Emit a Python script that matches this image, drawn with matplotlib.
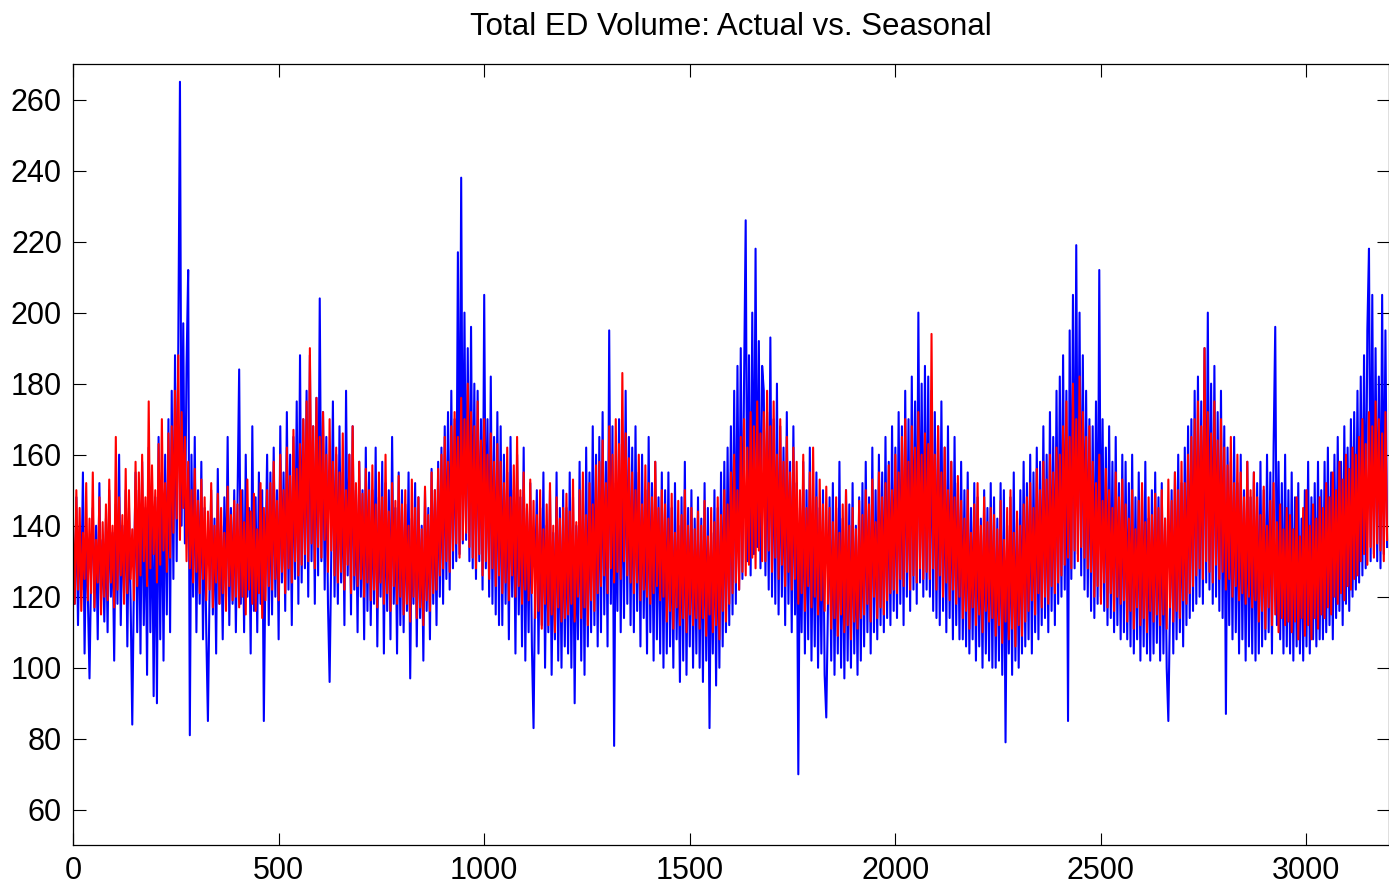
import numpy as np
import matplotlib
matplotlib.use("Agg")
import matplotlib.pyplot as plt

day_step = 4

actual = [
    135, 118, 148, 112, 140, 122, 155, 104, 138, 120, 97, 128, 145, 116, 140, 108, 152, 119, 136, 113,
    142, 110, 150, 120, 138, 102, 146, 118, 160, 112, 140, 121, 150, 106, 145, 119, 84, 124, 155, 110,
    150, 104, 158, 112, 145, 98, 162, 110, 150, 92, 148, 90, 165, 108, 155, 102, 160, 115, 170, 110,
    178, 125, 188, 130, 192, 265, 140, 197, 135, 185, 212, 81, 160, 120, 165, 110, 150, 118, 158, 108,
    145, 110, 85, 122, 150, 115, 142, 104, 156, 118, 140, 108, 148, 120, 165, 112, 145, 118, 150, 110,
    148, 184, 118, 150, 110, 160, 120, 145, 104, 168, 116, 148, 110, 155, 118, 150, 85, 130, 160, 112,
    155, 115, 162, 120, 150, 108, 168, 124, 155, 116, 172, 122, 160, 112, 165, 125, 175, 118, 188, 124,
    170, 128, 178, 120, 188, 130, 168, 118, 176, 126, 204, 130, 172, 122, 165, 118, 96, 132, 175, 120,
    160, 118, 168, 124, 155, 112, 178, 126, 160, 115, 168, 122, 150, 110, 158, 120, 150, 108, 162, 116,
    155, 112, 150, 118, 162, 106, 148, 120, 158, 104, 152, 116, 150, 108, 165, 118, 145, 104, 155, 112,
    150, 110, 146, 116, 155, 97, 142, 118, 152, 106, 148, 114, 140, 102, 150, 116, 145, 108, 156, 118,
    150, 112, 158, 120, 162, 118, 168, 125, 172, 122, 178, 128, 170, 130, 217, 132, 238, 135, 200, 136,
    190, 130, 196, 128, 180, 125, 178, 130, 170, 122, 205, 128, 170, 120, 182, 118, 165, 115, 172, 112,
    168, 112, 160, 118, 155, 108, 165, 120, 150, 104, 160, 115, 148, 106, 162, 102, 145, 110, 152, 106,
    83, 125, 150, 104, 145, 112, 155, 100, 140, 110, 150, 98, 138, 108, 155, 102, 145, 100, 150, 106,
    145, 104, 155, 100, 148, 90, 140, 108, 158, 102, 150, 98, 162, 106, 155, 110, 168, 112, 160, 106,
    165, 110, 172, 115, 158, 106, 195, 118, 168, 78, 152, 116, 170, 110, 162, 114, 178, 118, 165, 112,
    162, 110, 168, 116, 155, 106, 160, 114, 150, 104, 165, 110, 152, 102, 158, 108, 148, 104, 155, 100,
    150, 104, 155, 106, 145, 100, 152, 108, 140, 96, 148, 102, 158, 98, 145, 106, 150, 100, 142, 104,
    148, 100, 142, 96, 152, 102, 145, 83, 138, 104, 150, 95, 145, 100, 155, 106, 158, 110, 162, 112,
    168, 115, 178, 118, 185, 122, 190, 125, 180, 226, 130, 188, 126, 200, 132, 218, 134, 192, 128, 185,
    178, 126, 172, 122, 193, 120, 170, 118, 180, 115, 168, 120, 162, 112, 172, 118, 158, 110, 168, 115,
    152, 70, 145, 110, 158, 104, 150, 108, 162, 102, 148, 106, 155, 100, 145, 104, 150, 98, 86, 118,
    148, 102, 152, 98, 145, 104, 158, 100, 142, 97, 150, 102, 146, 100, 152, 104, 140, 98, 148, 102,
    152, 106, 158, 110, 148, 104, 162, 110, 150, 108, 160, 112, 155, 110, 165, 114, 158, 112, 168, 116,
    162, 114, 172, 118, 168, 112, 178, 120, 170, 116, 182, 122, 175, 118, 200, 124, 180, 120, 185, 122,
    182, 120, 178, 116, 172, 114, 168, 112, 175, 116, 162, 110, 168, 114, 158, 108, 165, 112, 152, 108,
    158, 108, 150, 106, 155, 104, 145, 108, 152, 102, 148, 106, 142, 100, 150, 104, 145, 102, 152, 100,
    148, 100, 142, 102, 152, 98, 150, 79, 140, 104, 148, 98, 155, 102, 142, 100, 150, 104, 158, 106,
    152, 108, 160, 104, 155, 110, 162, 108, 158, 112, 168, 114, 160, 110, 172, 116, 165, 112, 178, 118,
    182, 120, 188, 122, 178, 85, 195, 125, 205, 128, 219, 132, 200, 126, 188, 122, 178, 120, 170, 116,
    168, 114, 175, 118, 212, 120, 170, 116, 162, 112, 168, 114, 158, 110, 165, 112, 152, 108, 160, 110,
    158, 108, 152, 106, 160, 104, 148, 108, 155, 102, 150, 106, 158, 104, 142, 102, 150, 104, 155, 107,
    148, 102, 152, 104, 142, 100, 85, 118, 150, 104, 155, 108, 160, 110, 152, 106, 162, 112, 168, 114,
    170, 116, 178, 118, 182, 120, 175, 118, 190, 124, 200, 122, 180, 118, 185, 120, 172, 116, 178, 114,
    168, 87, 162, 112, 158, 108, 165, 110, 152, 104, 160, 108, 150, 102, 158, 106, 148, 104, 155, 102,
    152, 104, 158, 106, 150, 108, 160, 110, 155, 104, 162, 196, 112, 158, 108, 152, 104, 160, 106, 150,
    104, 155, 102, 148, 106, 152, 104, 142, 102, 150, 106, 158, 104, 148, 108, 152, 106, 158, 108, 150,
    108, 158, 110, 162, 112, 155, 108, 160, 114, 165, 116, 158, 112, 168, 118, 162, 116, 170, 120, 172,
    122, 178, 124, 182, 126, 188, 128, 195, 218, 130, 205, 132, 190, 130, 182, 128, 205, 132, 195, 134,
]

seasonal = [
    140, 118, 150, 122, 145, 116, 138, 125, 152, 119, 142, 121, 155, 117, 136, 124, 148, 115, 141, 120,
    146, 119, 153, 124, 140, 117, 165, 122, 148, 126, 143, 118, 156, 121, 150, 125, 139, 119, 158, 123,
    155, 126, 160, 130, 148, 123, 175, 128, 157, 132, 150, 124, 163, 129, 170, 133, 152, 127, 166, 131,
    168, 138, 178, 142, 188, 136, 172, 145, 165, 130, 158, 128, 150, 124, 156, 127, 147, 121, 153, 125,
    148, 119, 144, 122, 152, 117, 140, 124, 149, 118, 145, 121, 138, 116, 151, 123, 143, 119, 147, 120,
    146, 117, 150, 120, 141, 115, 153, 122, 144, 118, 149, 116, 139, 121, 152, 114, 145, 119, 150, 123,
    152, 122, 158, 125, 147, 119, 160, 127, 150, 121, 162, 128, 154, 124, 167, 130, 156, 126, 163, 129,
    170, 132, 175, 130, 190, 135, 168, 128, 176, 134, 165, 131, 172, 136, 160, 127, 170, 133, 158, 126,
    162, 124, 155, 127, 166, 122, 150, 129, 160, 121, 168, 126, 152, 123, 158, 125, 149, 120, 156, 124,
    150, 119, 157, 122, 146, 117, 155, 124, 148, 118, 160, 121, 144, 116, 152, 123, 147, 118, 154, 120,
    146, 115, 150, 118, 140, 113, 153, 120, 145, 114, 148, 117, 139, 112, 151, 119, 143, 116, 155, 121,
    150, 122, 156, 126, 160, 128, 165, 130, 158, 127, 168, 133, 172, 135, 165, 131, 176, 136, 170, 138,
    180, 134, 172, 131, 168, 128, 175, 132, 164, 126, 170, 130, 160, 125, 166, 128, 158, 123, 163, 126,
    158, 121, 152, 124, 162, 119, 148, 126, 157, 120, 165, 123, 150, 118, 155, 122, 146, 119, 153, 121,
    147, 114, 143, 116, 150, 111, 139, 118, 146, 112, 152, 115, 140, 110, 148, 117, 142, 113, 145, 114,
    149, 115, 144, 118, 153, 113, 141, 120, 150, 114, 155, 117, 143, 112, 152, 119, 146, 116, 157, 121,
    158, 123, 164, 126, 152, 121, 168, 128, 160, 124, 170, 127, 163, 125, 183, 130, 166, 126, 159, 124,
    155, 121, 150, 124, 160, 119, 146, 122, 157, 120, 152, 118, 148, 121, 158, 123, 145, 119, 150, 120,
    146, 113, 142, 116, 149, 111, 138, 117, 147, 112, 143, 114, 150, 110, 140, 115, 145, 112, 139, 114,
    144, 111, 140, 114, 147, 109, 137, 115, 145, 110, 141, 112, 148, 108, 143, 116, 150, 113, 146, 118,
    155, 121, 160, 124, 150, 122, 165, 127, 170, 126, 162, 129, 172, 131, 168, 128, 175, 133, 166, 130,
    172, 130, 178, 133, 168, 127, 175, 131, 160, 125, 170, 129, 158, 123, 165, 127, 155, 122, 162, 125,
    158, 118, 150, 121, 160, 116, 145, 123, 155, 117, 162, 120, 148, 115, 153, 119, 146, 116, 151, 118,
    145, 111, 141, 114, 148, 109, 138, 115, 146, 110, 150, 112, 140, 108, 145, 113, 139, 111, 147, 114,
    143, 115, 150, 118, 146, 113, 153, 120, 141, 114, 155, 117, 148, 115, 152, 119, 157, 121, 150, 122,
    160, 121, 155, 125, 165, 123, 170, 127, 158, 122, 168, 126, 162, 124, 172, 128, 160, 125, 166, 127,
    163, 125, 194, 128, 160, 122, 168, 126, 155, 120, 162, 124, 150, 119, 158, 122, 148, 118, 154, 120,
    147, 114, 142, 116, 150, 111, 138, 117, 146, 112, 152, 115, 140, 110, 148, 116, 141, 113, 145, 114,
    143, 109, 139, 112, 147, 107, 136, 113, 145, 108, 150, 111, 138, 106, 144, 112, 140, 109, 146, 113,
    148, 116, 152, 119, 145, 115, 156, 121, 150, 117, 158, 120, 153, 118, 160, 123, 155, 121, 162, 124,
    160, 126, 168, 129, 175, 131, 165, 128, 180, 133, 170, 130, 182, 134, 172, 131, 165, 128, 168, 127,
    158, 120, 152, 123, 160, 118, 147, 124, 156, 117, 150, 121, 145, 116, 155, 120, 148, 118, 153, 119,
    146, 113, 142, 116, 150, 111, 139, 117, 147, 112, 152, 114, 141, 110, 148, 116, 143, 113, 149, 115,
    145, 112, 150, 115, 142, 111, 153, 117, 147, 113, 155, 116, 150, 114, 158, 119, 152, 118, 160, 121,
    165, 123, 170, 126, 175, 128, 168, 125, 190, 130, 172, 127, 166, 124, 175, 129, 164, 125, 170, 127,
    162, 122, 157, 125, 165, 120, 152, 123, 160, 119, 155, 121, 148, 118, 158, 120, 150, 117, 155, 119,
    148, 113, 143, 116, 151, 111, 140, 117, 147, 112, 152, 115, 141, 110, 146, 114, 139, 112, 145, 113,
    143, 110, 139, 113, 148, 108, 137, 114, 145, 109, 150, 112, 140, 108, 146, 114, 142, 111, 148, 115,
    145, 114, 152, 117, 148, 115, 155, 120, 150, 118, 158, 121, 153, 119, 160, 123, 156, 122, 162, 125,
    160, 126, 165, 130, 170, 132, 163, 129, 172, 134, 168, 131, 175, 135, 170, 133, 166, 130, 172, 136,
]

title = "Total ED Volume: Actual vs. Seasonal"
xticks = [0, 500, 1000, 1500, 2000, 2500, 3000]
yticks = [60, 80, 100, 120, 140, 160, 180, 200, 220, 240, 260]

plt.rcParams['font.family'] = ['Liberation Sans', 'DejaVu Sans']

fig = plt.figure(figsize=(13.89, 8.93), dpi=100)
ax = fig.add_axes([0.0526, 0.0534, 0.9472, 0.8749])

x_act = np.arange(len(actual)) * day_step
x_sea = np.arange(len(seasonal)) * day_step
ax.plot(x_act, actual, color="#0000ff", lw=1.5)
ax.plot(x_sea, seasonal, color="#ff0000", lw=1.5)

ax.set_xlim(0, 3200)
ax.set_ylim(50, 270)
ax.set_xticks(xticks)
ax.set_yticks(yticks)
ax.tick_params(direction="in", length=9, width=0.8, labelsize=22,
               top=True, right=True, pad=8)
for s in ax.spines.values():
    s.set_linewidth(0.9)
ax.set_title(title, fontsize=22.5, pad=21)

fig.savefig("out.png", dpi=100)
